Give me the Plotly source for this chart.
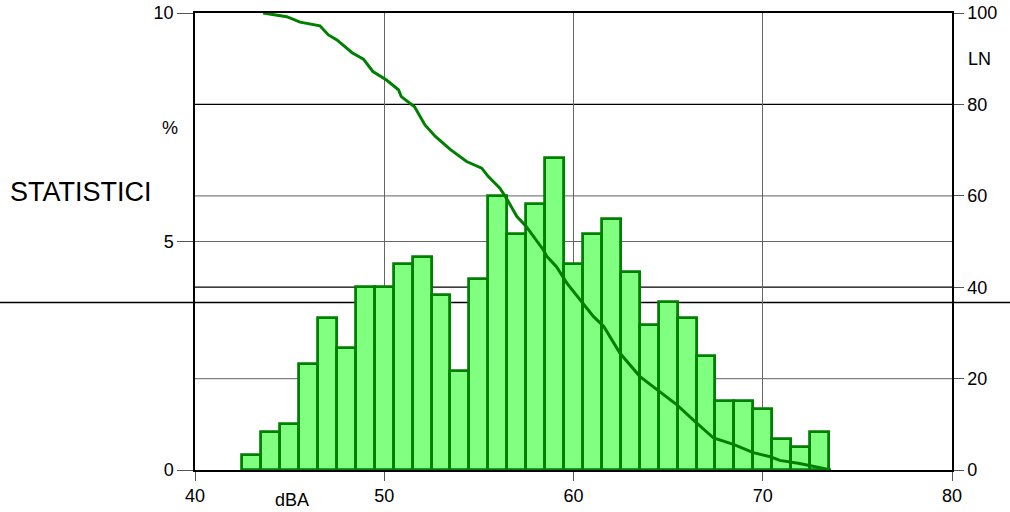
import plotly.graph_objects as go

# ---- data ----
levels_dba = list(range(43, 74))
percent = [0.33, 0.83, 1.00, 2.33, 3.33, 2.67, 4.00, 4.00, 4.50, 4.67, 3.83,
           2.17, 4.17, 6.00, 5.17, 5.83, 6.83, 4.50, 5.17, 5.50, 4.33, 3.17,
           3.67, 3.33, 2.50, 1.50, 1.50, 1.33, 0.67, 0.50, 0.83]

ln_level = [43.6, 44.85, 45.55, 46.6, 47.05, 47.5, 48.3, 48.9, 49.4, 50.1,
            50.75, 50.9, 51.6, 52.15, 52.7, 53.5, 54.35, 55.15, 55.5, 56.1, 56.4,
            57.0, 57.5, 57.9, 58.4, 58.6, 59.1, 59.65, 60.5, 61.05, 61.6, 62.45,
            63.5, 64.6, 65.45, 66.5, 67.4, 68.45, 69.5, 70.4, 70.9, 71.95, 72.7, 73.6]
ln_value = [100, 99.2, 98.0, 97.2, 95.2, 94.1, 91.3, 89.9, 87.2, 85.4,
            83.2, 81.7, 79.5, 75.5, 73.0, 70.1, 67.5, 66.05, 64.2, 61.7, 59.85,
            55.5, 53.3, 51.1, 48.2, 46.7, 44.5, 40.9, 36.5, 33.6, 31.4, 25.6,
            20.5, 16.9, 14.3, 10.3, 7.0, 5.6, 3.8, 2.9, 2.1, 1.4, 0.8, 0.0]

x_ticks = [40, 50, 60, 70, 80]
left_ticks = [0, 5, 10]
right_ticks = [0, 20, 40, 60, 80, 100]
ln_grid = [20, 40, 60, 80]
ln_grid_colors = ["#808080", "#000000", "#808080", "#000000"]
reference_pct = 3.665

FONT = "Liberation Sans, Arial, sans-serif"
DARK_GREEN = "#008000"
LIGHT_GREEN = "#80FF80"

fig = go.Figure()
fig.add_trace(go.Bar(
    x=levels_dba, y=percent, width=1,
    marker=dict(color=LIGHT_GREEN, line=dict(color=DARK_GREEN, width=2.8)),
    yaxis="y", showlegend=False, hoverinfo="skip"))
fig.add_trace(go.Scatter(
    x=ln_level, y=ln_value, mode="lines", line=dict(color=DARK_GREEN, width=3),
    yaxis="y2", showlegend=False, hoverinfo="skip", cliponaxis=False))

shapes = []
for v, c in zip(ln_grid, ln_grid_colors):
    shapes.append(dict(type="line", xref="paper", x0=0, x1=1, yref="y2", y0=v, y1=v,
                       line=dict(color=c, width=1.3), layer="below"))
shapes.append(dict(type="line", xref="paper", x0=-195/757, x1=815/757, yref="y",
                   y0=reference_pct, y1=reference_pct,
                   line=dict(color="#000000", width=1.3), layer="below"))

fig.update_layout(
    width=1010, height=512,
    margin=dict(l=195, r=58, t=13, b=42, autoexpand=False),
    paper_bgcolor="white", plot_bgcolor="white",
    bargap=0,
    font=dict(family=FONT, size=18, color="#000000"),
    xaxis=dict(range=[40, 80], tickvals=x_ticks, ticks="outside", ticklen=9,
               tickcolor="#555555", showline=True, linecolor="#000000", linewidth=1.5,
               mirror=True, showgrid=True, gridcolor="#666666", gridwidth=1.3,
               zeroline=False, tickfont=dict(size=18), automargin=False),
    yaxis=dict(range=[0, 10], tickvals=left_ticks, ticks="outside", ticklen=16,
               tickcolor="#555555", showline=True, linecolor="#000000", linewidth=1.5,
               showgrid=True, gridcolor="#666666", gridwidth=1.3, zeroline=False,
               tickfont=dict(size=18), automargin=False),
    yaxis2=dict(range=[0, 100], tickvals=right_ticks, overlaying="y", side="right",
                ticks="outside", ticklen=10, tickcolor="#555555", showline=True,
                linecolor="#000000", linewidth=1.5, showgrid=False, zeroline=False,
                tickfont=dict(size=18), automargin=False),
    shapes=shapes,
    annotations=[
        dict(text="%", xref="paper", yref="paper", x=-0.033, y=0.748,
             xanchor="center", yanchor="middle", showarrow=False, font=dict(size=18)),
        dict(text="STATISTICI", xref="paper", yref="paper", x=-0.1506, y=0.608,
             xanchor="center", yanchor="middle", showarrow=False, font=dict(size=27)),
        dict(text="LN", xref="paper", yref="paper", x=1.0357, y=0.899,
             xanchor="center", yanchor="middle", showarrow=False, font=dict(size=18)),
        dict(text="dBA", xref="x", yref="paper", x=45.1, y=-0.066,
             xanchor="center", yanchor="middle", showarrow=False, font=dict(size=18)),
    ],
)

fig.write_html("out.html", config={"displayModeBar": False},
               post_script="document.body.style.margin='0px';")
